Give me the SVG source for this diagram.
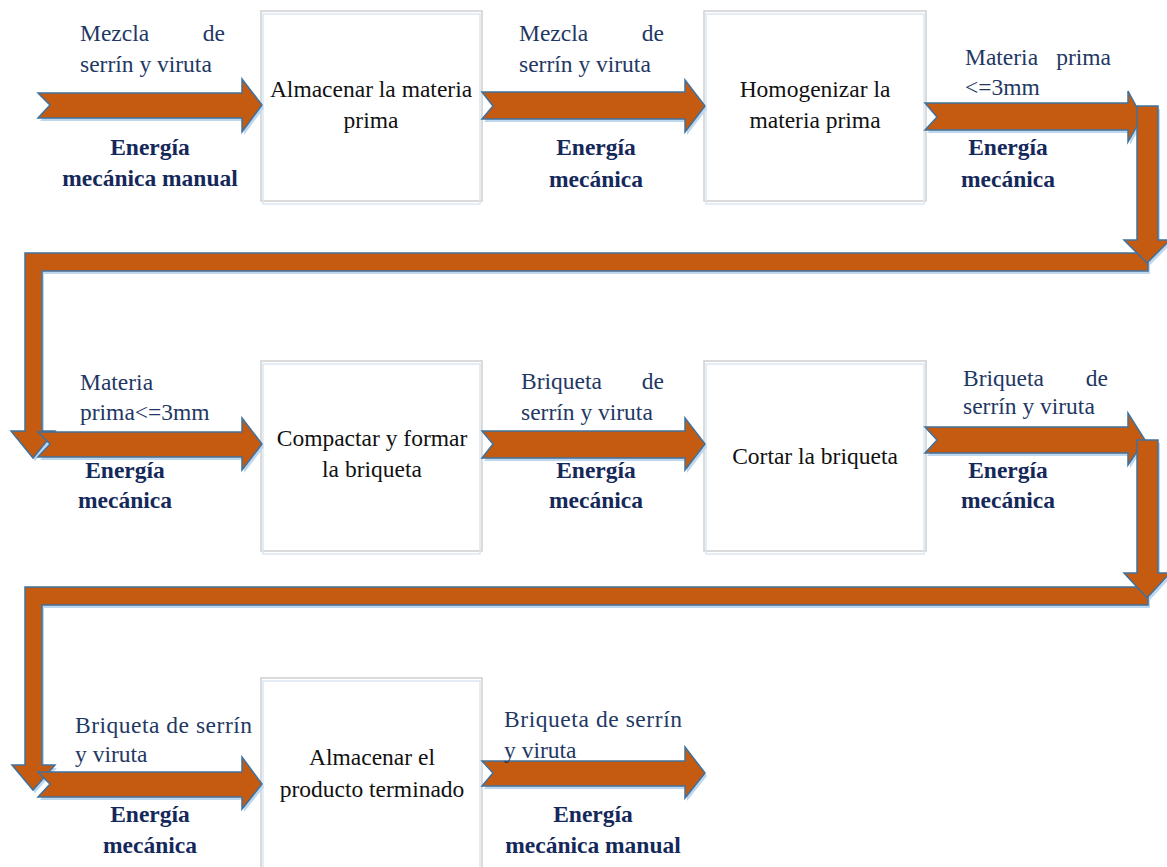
<svg xmlns="http://www.w3.org/2000/svg" width="1167" height="867" viewBox="0 0 1167 867">
<style>
.arr{fill:#C55A11;stroke:#41719C;stroke-width:1.5;stroke-linejoin:miter}
.sh{fill:#BDD7EE;stroke:none}
.box{fill:#fff;stroke:#CFCFCF;stroke-width:1.5}
.boxin{fill:none;stroke:#DCE6F2;stroke-width:1.5}
.bt{font-family:"Liberation Serif","Times New Roman",serif;font-size:23.5px;fill:#111;text-anchor:middle}
.lb{font-family:"Liberation Serif","Times New Roman",serif;font-size:23.5px;fill:#1F3864}
.en{font-family:"Liberation Serif","Times New Roman",serif;font-size:23.5px;font-weight:bold;fill:#14285A;text-anchor:middle}
</style>
<rect width="1167" height="867" fill="#fff"/>

<g id="node-almacenar-mp">
<rect class="box" x="261" y="11" width="221" height="190"/>
<rect class="boxin" x="263" y="14" width="217" height="190"/>
<text class="bt" x="371" y="97">Almacenar la materia</text>
<text class="bt" x="371" y="128">prima</text>
</g>
<g id="node-homogenizar">
<rect class="box" x="704" y="11" width="222" height="190"/>
<rect class="boxin" x="706" y="14" width="218" height="190"/>
<text class="bt" x="815" y="97">Homogenizar la</text>
<text class="bt" x="815" y="128">materia prima</text>
</g>
<g id="node-compactar">
<rect class="box" x="261" y="361" width="221" height="190"/>
<rect class="boxin" x="263" y="364" width="217" height="190"/>
<text class="bt" x="372" y="446">Compactar y formar</text>
<text class="bt" x="372" y="477">la briqueta</text>
</g>
<g id="node-cortar">
<rect class="box" x="704" y="361" width="222" height="190"/>
<rect class="boxin" x="706" y="364" width="218" height="190"/>
<text class="bt" x="815" y="464">Cortar la briqueta</text>
</g>
<g id="node-almacenar-pt">
<rect class="box" x="261" y="678" width="221" height="200"/>
<rect class="boxin" x="263" y="681" width="217" height="200"/>
<text class="bt" x="372" y="765">Almacenar el</text>
<text class="bt" x="372" y="797">producto terminado</text>
</g>

<g id="connectors">
<g transform="translate(2,3)">
<polygon class="sh" points="38,93 242,93 242,79 262,105 242,132 242,118 38,118 50,105"/>
<polygon class="sh" points="482,92 685,92 685,80 705,106 685,132 685,119 482,119 493,106"/>
<polygon class="sh" points="925,103 1128,103 1128,91 1142,117 1128,142 1128,130 925,130 937,117"/>
<polygon class="sh" points="1148,253 25,253 25,431 11,431 33,458 55,431 42,431 42,271 1148,271"/>
<polygon class="sh" points="1137,106 1158,106 1158,240 1170,240 1147,263 1124,240 1137,240"/>
<polygon class="sh" points="38,432 242,432 242,418 262,444 242,470 242,457 38,457 50,444"/>
<polygon class="sh" points="482,431 685,431 685,418 705,444 685,470 685,458 482,458 493,444"/>
<polygon class="sh" points="925,427 1128,427 1128,413 1145,440 1128,465 1128,453 925,453 937,440"/>
<polygon class="sh" points="1148,587 25,587 25,765 12,765 33,790 55,765 42,765 42,605 1148,605"/>
<polygon class="sh" points="1137,440 1158,440 1158,573 1170,573 1147,598 1124,573 1137,573"/>
<polygon class="sh" points="38,772 242,772 242,757 262,784 242,809 242,797 38,797 50,784"/>
<polygon class="sh" points="482,761 685,761 685,747 705,773 685,798 685,786 482,786 493,773"/>
</g>
<polygon class="arr" points="38,93 242,93 242,79 262,105 242,132 242,118 38,118 50,105"/>
<polygon class="arr" points="482,92 685,92 685,80 705,106 685,132 685,119 482,119 493,106"/>
<polygon class="arr" points="925,103 1128,103 1128,91 1142,117 1128,142 1128,130 925,130 937,117"/>
<polygon class="arr" points="1148,253 25,253 25,431 11,431 33,458 55,431 42,431 42,271 1148,271"/>
<polygon class="arr" points="1137,106 1158,106 1158,240 1170,240 1147,263 1124,240 1137,240"/>
<polygon class="arr" points="38,432 242,432 242,418 262,444 242,470 242,457 38,457 50,444"/>
<polygon class="arr" points="482,431 685,431 685,418 705,444 685,470 685,458 482,458 493,444"/>
<polygon class="arr" points="925,427 1128,427 1128,413 1145,440 1128,465 1128,453 925,453 937,440"/>
<polygon class="arr" points="1148,587 25,587 25,765 12,765 33,790 55,765 42,765 42,605 1148,605"/>
<polygon class="arr" points="1137,440 1158,440 1158,573 1170,573 1147,598 1124,573 1137,573"/>
<polygon class="arr" points="38,772 242,772 242,757 262,784 242,809 242,797 38,797 50,784"/>
<polygon class="arr" points="482,761 685,761 685,747 705,773 685,798 685,786 482,786 493,773"/>
</g>

<g id="labels">
<text class="lb" x="80" y="41">Mezcla</text>
<text class="lb" x="225" y="41" text-anchor="end">de</text>
<text class="lb" x="80" y="72">serrín y viruta</text>
<text class="en" x="150" y="155">Energía</text>
<text class="en" x="150" y="186">mecánica manual</text>

<text class="lb" x="519" y="41">Mezcla</text>
<text class="lb" x="664" y="41" text-anchor="end">de</text>
<text class="lb" x="519" y="72">serrín y viruta</text>
<text class="en" x="596" y="155">Energía</text>
<text class="en" x="596" y="187">mecánica</text>

<text class="lb" x="965" y="65">Materia</text>
<text class="lb" x="1111" y="65" text-anchor="end">prima</text>
<text class="lb" x="965" y="95">&lt;=3mm</text>
<text class="en" x="1008" y="155">Energía</text>
<text class="en" x="1008" y="187">mecánica</text>

<text class="lb" x="80" y="390">Materia</text>
<text class="lb" x="80" y="420">prima&lt;=3mm</text>
<text class="en" x="125" y="478">Energía</text>
<text class="en" x="125" y="508">mecánica</text>

<text class="lb" x="521" y="389">Briqueta</text>
<text class="lb" x="664" y="389" text-anchor="end">de</text>
<text class="lb" x="521" y="420">serrín y viruta</text>
<text class="en" x="596" y="478">Energía</text>
<text class="en" x="596" y="508">mecánica</text>

<text class="lb" x="963" y="386">Briqueta</text>
<text class="lb" x="1108" y="386" text-anchor="end">de</text>
<text class="lb" x="963" y="414">serrín y viruta</text>
<text class="en" x="1008" y="478">Energía</text>
<text class="en" x="1008" y="508">mecánica</text>

<text class="lb" x="75" y="733" textLength="177" lengthAdjust="spacing">Briqueta de serrín</text>
<text class="lb" x="75" y="762">y viruta</text>
<text class="en" x="150" y="822">Energía</text>
<text class="en" x="150" y="853">mecánica</text>

<text class="lb" x="504" y="727" textLength="178" lengthAdjust="spacing">Briqueta de serrín</text>
<text class="lb" x="504" y="758">y viruta</text>
<text class="en" x="593" y="822">Energía</text>
<text class="en" x="593" y="853">mecánica manual</text>
</g>
</svg>
